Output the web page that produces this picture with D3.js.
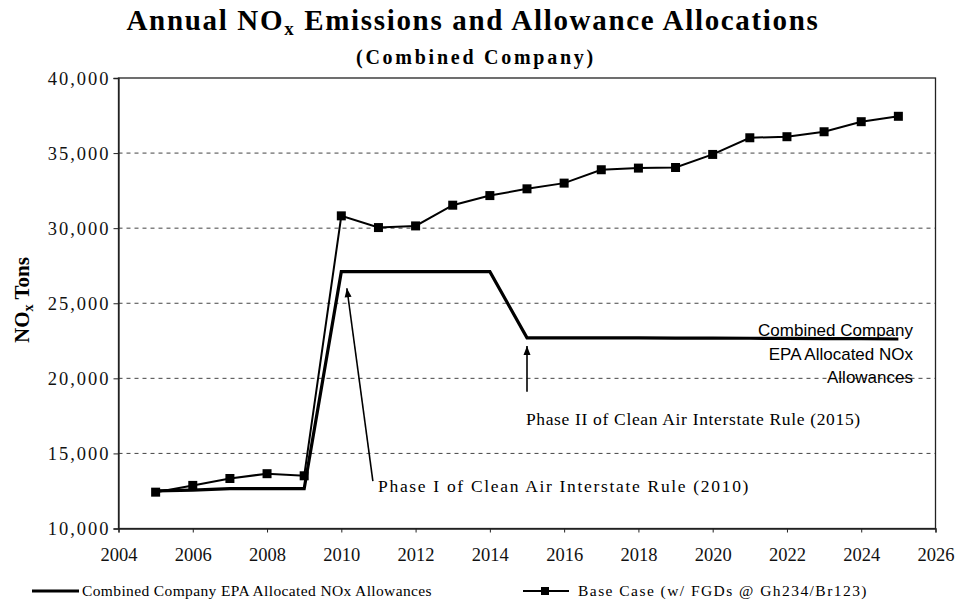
<!DOCTYPE html>
<html><head><meta charset="utf-8">
<script src="https://cdn.jsdelivr.net/npm/d3@7"></script>
<style>
body{margin:0;background:#fff;}
svg{display:block;}
</style></head>
<body>
<svg id="c" width="961" height="609"></svg>
<script>
const years = [2005,2006,2007,2008,2009,2010,2011,2012,2013,2014,2015,2016,2017,2018,2019,2020,2021,2022,2023,2024,2025];
const baseCase = [12420,12870,13330,13650,13510,30820,30040,30150,31530,32170,32620,33000,33890,34000,34040,34910,36020,36090,36420,37090,37450];
const allowances = [12500,12560,12650,12650,12650,27100,27100,27100,27100,27100,22700,22700,22690,22690,22680,22680,22670,22660,22650,22640,22620];
const yTicks = [10000,15000,20000,25000,30000,35000,40000];
const xTicks = [2004,2006,2008,2010,2012,2014,2016,2018,2020,2022,2024,2026];
const seriesNames = ["Combined Company EPA Allocated NOx Allowances","Base Case (w/ FGDs @ Gh234/Br123)"];

const svg = d3.select("#c");
const serif = "'Liberation Serif','Times New Roman',serif";
const sans = "'Liberation Sans',Arial,sans-serif";
const L=118.5, R=935.5, T=78, B=528.5;
const x = d3.scaleLinear().domain([2004,2026]).range([L,R]);
const y = d3.scaleLinear().domain([10000,40000]).range([B,T]);

// fit a text's width by adjusting letter spacing
function fit(sel, target){
  const node = sel.node();
  const w = node.getComputedTextLength();
  const n = node.textContent.length;
  sel.style("letter-spacing", ((target - w)/n) + "px");
  return sel;
}

// grid
svg.append("g").selectAll("line").data(yTicks.filter(v=>v>10000&&v<40000)).join("line")
  .attr("x1",L).attr("x2",R).attr("y1",d=>y(d)).attr("y2",d=>y(d))
  .attr("stroke","#444").attr("stroke-width",1).attr("stroke-dasharray","4,4");

// frame
svg.append("rect").attr("x",L).attr("y",T).attr("width",R-L).attr("height",B-T)
  .attr("fill","none").attr("stroke","#222").attr("stroke-width",1.3);

// axes
const ya = svg.append("g").attr("transform",`translate(${L},0)`)
  .call(d3.axisLeft(y).tickValues(yTicks).tickSize(5).tickPadding(5).tickFormat(d3.format(",")));
const xa = svg.append("g").attr("transform",`translate(0,${B})`)
  .call(d3.axisBottom(x).tickValues(xTicks).tickSize(4).tickPadding(15).tickFormat(d3.format("d")));
[ya,xa].forEach(a=>{
  a.attr("font-family",null).attr("font-size",null);
  a.select(".domain").attr("stroke","#222").attr("stroke-width",1.3);
  a.selectAll(".tick line").attr("stroke","#222");
  a.selectAll("text").style("font-family",serif).style("font-size","18.5px").attr("fill","#111");
});
ya.selectAll("text").style("letter-spacing","2px").attr("dx","2px").attr("dy","0.34em");

// lines
const line = d3.line().x((d,i)=>x(years[i])).y(d=>y(d));
svg.append("path").datum(allowances).attr("d",line)
  .attr("fill","none").attr("stroke","#000").attr("stroke-width",3.2).attr("stroke-linejoin","miter");
svg.append("path").datum(baseCase).attr("d",line)
  .attr("fill","none").attr("stroke","#000").attr("stroke-width",2);
svg.append("g").selectAll("rect").data(baseCase).join("rect")
  .attr("x",(d,i)=>x(years[i])-4.5).attr("y",d=>y(d)-4.5).attr("width",9).attr("height",9).attr("fill","#000");

// annotations
function arrow(x1,y1,x2,y2){
  svg.append("line").attr("x1",x1).attr("y1",y1).attr("x2",x2).attr("y2",y2)
    .attr("stroke","#000").attr("stroke-width",1.6);
  const a=Math.atan2(y2-y1,x2-x1), len=9, w=3.5;
  const bx=x2-len*Math.cos(a), by=y2-len*Math.sin(a);
  const px=-Math.sin(a)*w, py=Math.cos(a)*w;
  svg.append("path").attr("d",`M${x2},${y2}L${bx+px},${by+py}L${bx-px},${by-py}Z`).attr("fill","#000");
}
arrow(x(2010.85),y(13160),x(2010.15),y(26000));
arrow(x(2015),y(19100),x(2015),y(22150));
fit(svg.append("text").attr("x",x(2010.99)).attr("y",y(12400)).text("Phase I of Clean Air Interstate Rule (2010)")
  .style("font-family",serif).style("font-size","17.5px"), 372);
fit(svg.append("text").attr("x",x(2014.97)).attr("y",y(16900)).text("Phase II of Clean Air Interstate Rule (2015)")
  .style("font-family",serif).style("font-size","17.5px"), 335);
const lbl = ["Combined Company","EPA Allocated NOx","Allowances"];
svg.append("g").selectAll("text").data(lbl).join("text")
  .attr("x",913).attr("y",(d,i)=>336+i*23.5).attr("text-anchor","end")
  .style("font-family",sans).style("font-size","17px").text(d=>d);

// titles
const title = svg.append("text").attr("x",473).attr("y",30).attr("text-anchor","middle")
  .style("font-family",serif).style("font-weight","bold").style("font-size","29px")
  .html('Annual NO<tspan font-size="19" dy="5">x</tspan><tspan dy="-5"> Emissions and Allowance Allocations</tspan>');
fit(title, 693);
fit(svg.append("text").attr("x",476).attr("y",64).attr("text-anchor","middle")
  .style("font-family",serif).style("font-weight","bold").style("font-size","20px")
  .text("(Combined Company)"), 240);
svg.append("text").attr("transform","translate(29,300) rotate(-90)").attr("text-anchor","middle")
  .style("font-family",serif).style("font-weight","bold").style("font-size","21px")
  .html('NO<tspan font-size="14" dy="4">x</tspan><tspan dy="-4"> Tons</tspan>');

// legend
const lg = svg.append("g");
lg.append("line").attr("x1",32).attr("x2",79).attr("y1",591).attr("y2",591).attr("stroke","#000").attr("stroke-width",3);
fit(lg.append("text").attr("x",82).attr("y",596).text(seriesNames[0])
  .style("font-family",serif).style("font-size","15.5px"), 350);
lg.append("line").attr("x1",523).attr("x2",569).attr("y1",591).attr("y2",591).attr("stroke","#000").attr("stroke-width",2);
lg.append("rect").attr("x",541).attr("y",587).attr("width",8).attr("height",8).attr("fill","#000");
fit(lg.append("text").attr("x",578).attr("y",596).text(seriesNames[1])
  .style("font-family",serif).style("font-size","15.5px"), 290);
</script>
</body></html>
